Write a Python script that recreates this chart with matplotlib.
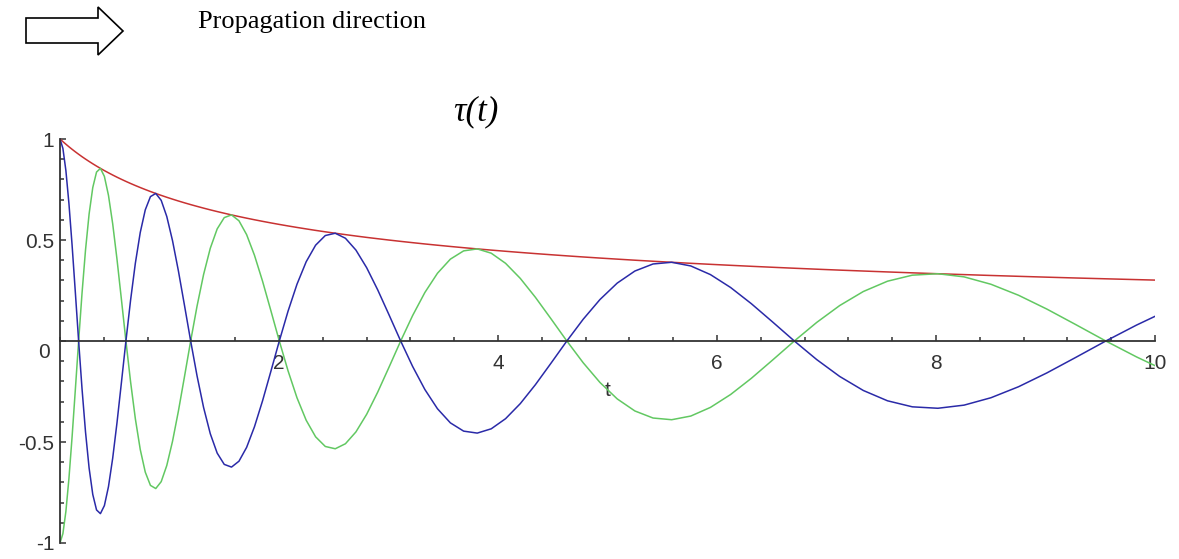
import matplotlib.pyplot as plt
from matplotlib.patches import Polygon
from matplotlib.ticker import MultipleLocator

t = [0.0, 0.0265, 0.0538, 0.0817, 0.1104, 0.1399, 0.1701, 0.2011, 0.2330, 0.2657, 0.2993, 0.3337,
     0.3691, 0.4054, 0.4427, 0.4810, 0.5203, 0.5606, 0.6020, 0.6445, 0.6881, 0.7329, 0.7788, 0.8260,
     0.8745, 0.9242, 0.9752, 1.0276, 1.0814, 1.1366, 1.1933, 1.2515, 1.3112, 1.3725, 1.4354, 1.5000,
     1.5663, 1.6344, 1.7043, 1.7760, 1.8497, 1.9252, 2.0028, 2.0825, 2.1643, 2.2482, 2.3343, 2.4228,
     2.5136, 2.6068, 2.7025, 2.8007, 2.9015, 3.0050, 3.1112, 3.2203, 3.3322, 3.4471, 3.5651, 3.6862,
     3.8105, 3.9381, 4.0691, 4.2035, 4.3415, 4.4832, 4.6287, 4.7780, 4.9312, 5.0886, 5.2501, 5.4159,
     5.5861, 5.7608, 5.9401, 6.1242, 6.3132, 6.5071, 6.7063, 6.9107, 7.1205, 7.3359, 7.5570, 7.7840,
     8.0170, 8.2562, 8.5017, 8.7538, 9.0125, 9.2781, 9.5507, 9.8306, 10.0]

envelope = [1.0, 0.9870, 0.9742, 0.9615, 0.9490, 0.9366, 0.9245, 0.9124, 0.9006, 0.8889, 0.8773, 0.8659,
            0.8546, 0.8435, 0.8326, 0.8217, 0.8110, 0.8005, 0.7901, 0.7798, 0.7697, 0.7597, 0.7498, 0.7400,
            0.7304, 0.7209, 0.7115, 0.7023, 0.6931, 0.6841, 0.6752, 0.6665, 0.6578, 0.6492, 0.6408, 0.6325,
            0.6242, 0.6161, 0.6081, 0.6002, 0.5924, 0.5847, 0.5771, 0.5696, 0.5622, 0.5549, 0.5476, 0.5405,
            0.5335, 0.5266, 0.5197, 0.5129, 0.5063, 0.4997, 0.4932, 0.4868, 0.4804, 0.4742, 0.4680, 0.4619,
            0.4559, 0.4500, 0.4442, 0.4384, 0.4327, 0.4271, 0.4215, 0.4160, 0.4106, 0.4053, 0.4000, 0.3948,
            0.3897, 0.3846, 0.3796, 0.3747, 0.3698, 0.3650, 0.3602, 0.3555, 0.3509, 0.3464, 0.3419, 0.3374,
            0.3330, 0.3287, 0.3244, 0.3202, 0.3160, 0.3119, 0.3079, 0.3039, 0.3015]

blue_vals = [1.0, 0.9534, 0.8436, 0.6799, 0.4745, 0.2424, 0.0, -0.2361, -0.4503, -0.6285, -0.7597, -0.8364,
             -0.8546, -0.8148, -0.7210, -0.5810, -0.4055, -0.2072, 0.0, 0.2018, 0.3848, 0.5372, 0.6493, 0.7148,
             0.7304, 0.6963, 0.6162, 0.4966, 0.3466, 0.1771, 0.0, -0.1725, -0.3289, -0.4591, -0.5549, -0.6109,
             -0.6242, -0.5951, -0.5266, -0.4244, -0.2962, -0.1513, 0.0, 0.1474, 0.2811, 0.3923, 0.4743, 0.5221,
             0.5335, 0.5086, 0.4501, 0.3627, 0.2531, 0.1293, 0.0, -0.1260, -0.2402, -0.3353, -0.4053, -0.4462,
             -0.4559, -0.4347, -0.3846, -0.3100, -0.2163, -0.1105, 0.0, 0.1077, 0.2053, 0.2866, 0.3464, 0.3813,
             0.3897, 0.3715, 0.3287, 0.2649, 0.1849, 0.0945, 0.0, -0.0920, -0.1755, -0.2449, -0.2960, -0.3259,
             -0.3330, -0.3175, -0.2809, -0.2264, -0.1580, -0.0807, 0.0, 0.0786, 0.1221]

green_vals = [-1.0, -0.9534, -0.8436, -0.6799, -0.4745, -0.2424, 0.0, 0.2361, 0.4503, 0.6285, 0.7597, 0.8364,
              0.8546, 0.8148, 0.7210, 0.5810, 0.4055, 0.2072, 0.0, -0.2018, -0.3848, -0.5372, -0.6493, -0.7148,
              -0.7304, -0.6963, -0.6162, -0.4966, -0.3466, -0.1771, 0.0, 0.1725, 0.3289, 0.4591, 0.5549, 0.6109,
              0.6242, 0.5951, 0.5266, 0.4244, 0.2962, 0.1513, 0.0, -0.1474, -0.2811, -0.3923, -0.4743, -0.5221,
              -0.5335, -0.5086, -0.4501, -0.3627, -0.2531, -0.1293, 0.0, 0.1260, 0.2402, 0.3353, 0.4053, 0.4462,
              0.4559, 0.4347, 0.3846, 0.3100, 0.2163, 0.1105, 0.0, -0.1077, -0.2053, -0.2866, -0.3464, -0.3813,
              -0.3897, -0.3715, -0.3287, -0.2649, -0.1849, -0.0945, 0.0, 0.0920, 0.1755, 0.2449, 0.2960, 0.3259,
              0.3330, 0.3175, 0.2809, 0.2264, 0.1580, 0.0807, 0.0, -0.0786, -0.1221]

x_labels = [2, 4, 6, 8, 10]
y_ticks = [-1, -0.5, 0, 0.5, 1]
y_labels = ['-1', '-0.5', '', '0.5', '1']

W, H = 1179, 559
fig = plt.figure(figsize=(W / 100, H / 100), dpi=100)
ax = fig.add_axes([60 / W, 1 - 543 / H, (1155 - 60) / W, (543 - 139) / H])

ax.plot(t, envelope, color='#c83232', lw=1.1)
ax.plot(t, green_vals, color='#62c862', lw=1.1)
ax.plot(t, blue_vals, color='#2a2aa8', lw=1.1)

ax.set_xlim(0, 10)
ax.set_ylim(-1, 1)

# maple style axes through the origin
for side in ['top', 'right']:
    ax.spines[side].set_visible(False)
ax.spines['left'].set_position(('data', 0))
ax.spines['bottom'].set_position(('data', 0))
for side in ['left', 'bottom']:
    ax.spines[side].set_color('#333333')
    ax.spines[side].set_linewidth(1.3)

ax.set_xticks(x_labels)
ax.set_xticklabels([str(v) for v in x_labels])
ax.xaxis.set_minor_locator(MultipleLocator(0.4))
ax.set_yticks(y_ticks)
ax.set_yticklabels(y_labels)
ax.yaxis.set_minor_locator(MultipleLocator(0.1))
ax.tick_params(axis='both', which='both', direction='in', color='#333333', width=1.1,
               labelsize=15, labelcolor='#333333')
ax.tick_params(axis='both', which='major', length=4)
ax.tick_params(axis='both', which='minor', length=3)
ax.tick_params(axis='x', pad=9)
ax.tick_params(axis='y', pad=4)
for lab in ax.get_xticklabels() + ax.get_yticklabels():
    lab.set_family('Liberation Sans')

# the "0" label sits a little below the x axis
ax.annotate('0', xy=(0, 0), xytext=(-7, -8), textcoords='offset points',
            ha='right', va='center', fontsize=15, family='Liberation Sans', color='#333333')

ax.set_xlabel('t', family='Liberation Sans', fontsize=15, color='#333333')
ax.xaxis.set_label_coords(0.5, 0.40)

fig.text(476 / W, 1 - 112 / H, 'τ(t)', family='Liberation Serif', style='italic',
         fontsize=25, ha='center', va='center')

# outline arrow and caption at the top
arrow_pts = [(26, 18), (98, 18), (98, 7), (123, 31), (98, 55), (98, 43), (26, 43)]
fig.add_artist(Polygon([(x / W, 1 - y / H) for x, y in arrow_pts], closed=True,
                       facecolor='white', edgecolor='black', lw=1.2,
                       transform=fig.transFigure))
fig.text(198 / W, 1 - 22 / H, 'Propagation direction', family='Liberation Serif',
         fontsize=19, ha='left', va='center')

fig.savefig('out.png', dpi=100)
